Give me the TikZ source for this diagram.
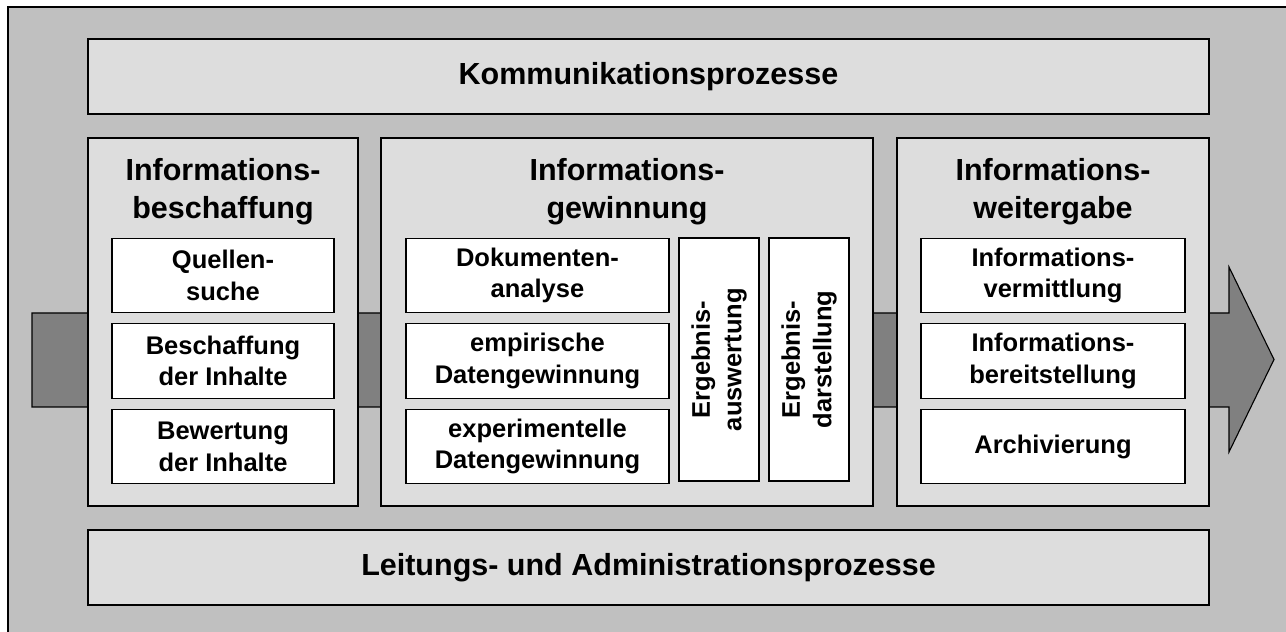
\documentclass[tikz,border=0pt]{standalone}
\usepackage{fontspec}
\setmainfont{Liberation Sans}
\usetikzlibrary{positioning}
\definecolor{bggray}{HTML}{C0C0C0}
\definecolor{boxgray}{HTML}{DDDDDD}
\definecolor{arrowgray}{HTML}{808080}

\begin{document}
\begin{tikzpicture}[x=1pt,y=1pt,line width=1.1pt,
  bar/.style={draw,fill=boxgray,minimum width=1121pt,minimum height=75pt,
    font=\bfseries\fontsize{30.5}{38}\selectfont},
  column/.style={draw,fill=boxgray,minimum height=368pt},
  head/.style={inner sep=0pt,align=center,font=\bfseries\fontsize{30.5}{38}\selectfont},
  item/.style={draw,fill=white,minimum height=74.5pt,inner sep=0pt,align=center,
    font=\bfseries\fontsize{25.5}{31.5}\selectfont},
  vitem/.style={item,minimum width=243pt,minimum height=80pt,rotate=90}]
\useasboundingbox (0,0) rectangle (1286,632);
% background
\fill[bggray] (8,0) rectangle (1286,625);
\draw (8,0) -- (8,625) -- (1286,625);
% process arrow
\draw[fill=arrowgray] (32,225) -- (1229,225) -- (1229,180) -- (1274,272.5)
  -- (1229,365) -- (1229,319) -- (32,319) -- cycle;

\node[bar] (komm) at (648.5,555.5) {Kommunikationsprozesse};
\node[bar] (leit) at (648.5,64.5) {Leitungs- und Administrationsprozesse};

\node[column,minimum width=270pt] (beschaffung) at (223,310) {};
\node[column,minimum width=492pt] (gewinnung) at (627,310) {};
\node[column,minimum width=312pt] (weitergabe) at (1053,310) {};

\node[head,below=20pt of beschaffung.north] (h_b) {Informations-\\beschaffung};
\node[head,below=20pt of gewinnung.north] (h_g) {Informations-\\gewinnung};
\node[head,below=20pt of weitergabe.north] (h_w) {Informations-\\weitergabe};

% Informationsbeschaffung
\node[item,minimum width=222pt] (quelle) at (223,356.5) {Quellen-\\suche};
\node[item,minimum width=222pt] (beschaff) [below=10pt of quelle] {Beschaffung\\der Inhalte};
\node[item,minimum width=222pt] (bewert) [below=10pt of beschaff] {Bewertung\\der Inhalte};

% Informationsgewinnung
\node[item,minimum width=263pt] (dok) at (537.5,356.5) {Dokumenten-\\analyse};
\node[item,minimum width=263pt] (emp) [below=10pt of dok] {empirische\\Datengewinnung};
\node[item,minimum width=263pt] (exp) [below=10pt of emp] {experimentelle\\Datengewinnung};
\node[vitem] (ausw) at (719,272.5) {Ergebnis-\\auswertung};
\node[vitem] (darst) at (809,272.5) {Ergebnis-\\darstellung};

% Informationsweitergabe
\node[item,minimum width=264pt] (verm) at (1053,356.5) {Informations-\\vermittlung};
\node[item,minimum width=264pt] (bereit) [below=10pt of verm] {Informations-\\bereitstellung};
\node[item,minimum width=264pt] (archiv) [below=10pt of bereit] {Archivierung};
\end{tikzpicture}
\end{document}
